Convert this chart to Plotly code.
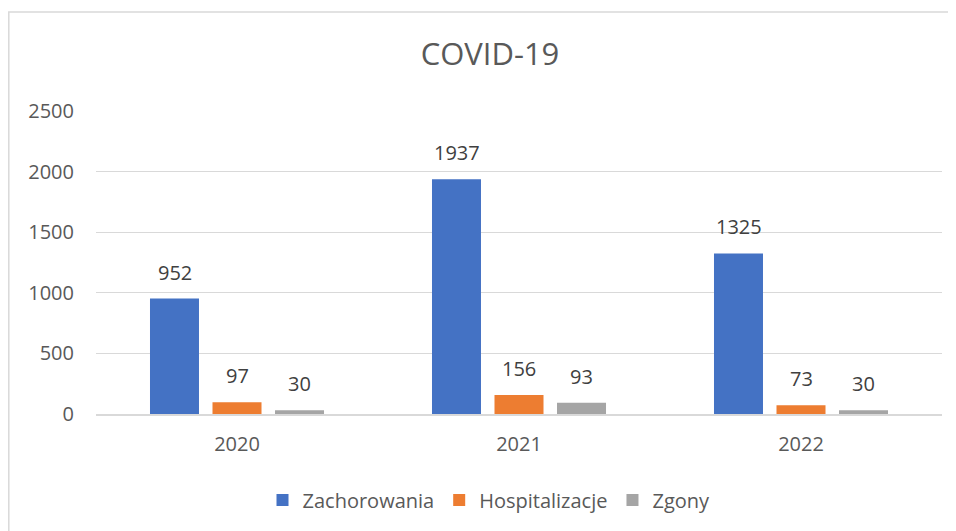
import plotly.graph_objects as go

categories = ["2020", "2021", "2022"]
series_names = ["Zachorowania", "Hospitalizacje", "Zgony"]
zachorowania = [952, 1937, 1325]
hospitalizacje = [97, 156, 73]
zgony = [30, 93, 30]
y_ticks = [0, 500, 1000, 1500, 2000, 2500]

colors = ["#4472C4", "#ED7D31", "#A5A5A5"]
FONT = "Open Sans"

fig = go.Figure()
all_values = [zachorowania, hospitalizacje, zgony]
for name, vals, col in zip(series_names, all_values, colors):
    fig.add_trace(go.Bar(x=categories, y=vals, name=name, marker_color=col,
                         marker_line_width=0))

# data labels (x given as category index)
offsets = [-62.5, 0, 62.5]
for vals, off in zip(all_values, offsets):
    for i, v in enumerate(vals):
        fig.add_annotation(x=i, y=v, text=str(v), showarrow=False,
                           xshift=off, yshift=11, yanchor="bottom",
                           font=dict(family=FONT, size=20, color="#404040"))

# page body has an 8px margin, so work in figure pixels = screen - 8
S = 8
W, H = 956 - S, 531 - S
ml, mr, mt, mb = 96 - S, 956 - 942, 111 - S, 531 - 414
pw, ph = W - ml - mr, H - mt - mb

# chart border (extends beyond the visible frame on right/bottom)
fig.add_shape(type="rect", xref="paper", yref="paper",
              x0=(0.8 - ml) / pw, x1=(W + 20 - ml) / pw,
              y0=-(H + 20 - mt - ph) / ph, y1=1 + (mt - (12 - S)) / ph,
              line=dict(color="#D9D9D9", width=1.5), layer="below")

fig.update_layout(
    width=W, height=H,
    margin=dict(l=ml, r=mr, t=mt, b=mb, autoexpand=False),
    paper_bgcolor="white", plot_bgcolor="white",
    font=dict(family=FONT, color="#595959"),
    title=dict(text="COVID-19", x=(490 - S) / W, xanchor="center",
               y=1 - (54 - S) / H, yanchor="middle",
               font=dict(family=FONT, size=31, color="#595959")),
    barmode="group", bargap=0.335, bargroupgap=0.216,
    legend=dict(orientation="h", x=(489 - 96) / pw, xanchor="center",
                y=-(500 - 414) / ph, yanchor="middle",
                font=dict(family=FONT, size=20, color="#595959"),
                itemwidth=30, traceorder="normal"),
    showlegend=True,
)
fig.update_yaxes(range=[0, 2500], tickvals=y_ticks, showgrid=True,
                 gridcolor="#D9D9D9", gridwidth=1, zeroline=False,
                 showline=False, tickfont=dict(size=20, color="#595959"),
                 ticklabelstandoff=21)
fig.update_xaxes(type="category", range=[-0.5, 2.5], showline=True,
                 linecolor="#D9D9D9", linewidth=1.5,
                 tickfont=dict(size=20, color="#595959"),
                 ticklabelstandoff=11)

fig.write_html("out.html")
